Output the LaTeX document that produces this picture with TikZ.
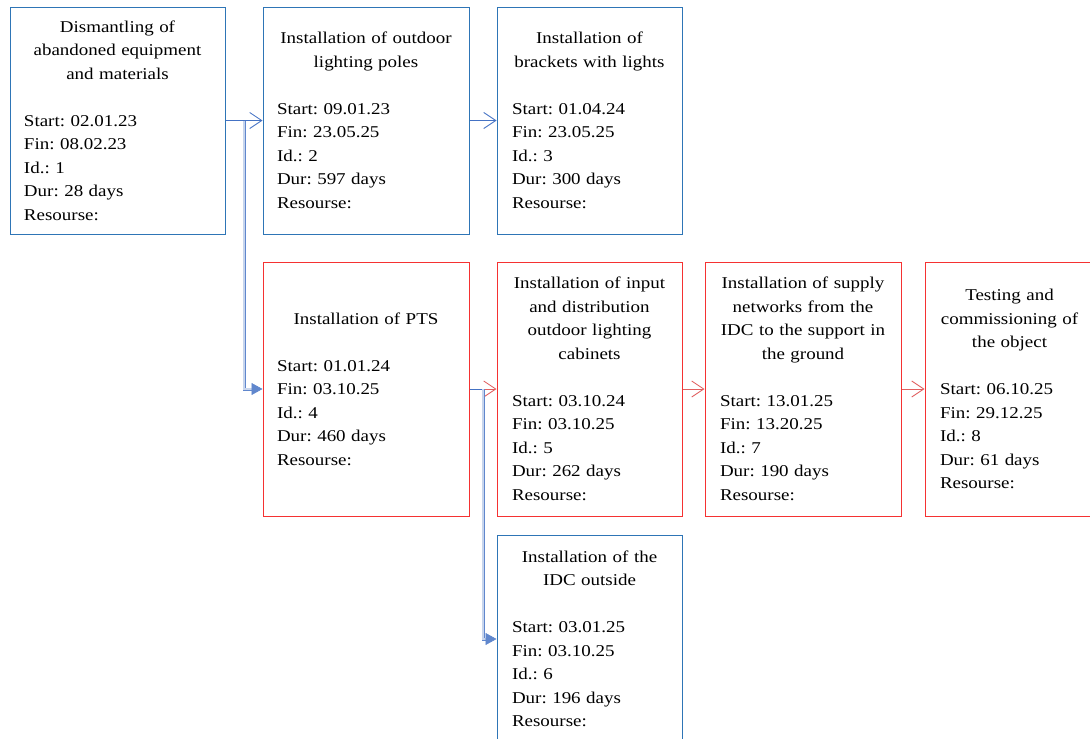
\documentclass[tikz,border=0pt]{standalone}
\usepackage{fontspec}
\setmainfont{Liberation Serif}[FakeStretch=1.15]
\usetikzlibrary{arrows.meta,calc}
\definecolor{boxblue}{RGB}{46,117,182}
\definecolor{lineblue}{RGB}{68,114,196}
\definecolor{boxred}{RGB}{245,50,50}
\definecolor{linered}{RGB}{225,95,95}
\newcommand\tline[1]{\makebox[\linewidth][c]{#1}\\}
\newcommand\tlast[1]{\makebox[\linewidth][c]{#1}\\[\baselineskip]}
\frenchspacing
\begin{document}
\begin{tikzpicture}[x=1pt,y=-1pt,
  task/.style={draw, line width=1pt, fill=white, align=left, inner xsep=14pt, inner ysep=0pt,
    font=\fontsize{16.5}{23.5}\selectfont\frenchspacing},
  bluebox/.style={task, draw=boxblue},
  redbox/.style={task, draw=boxred},
  blueconn/.style={draw=lineblue, line width=0.9pt, -{Straight Barb[length=12pt,width=16pt]}},
  redconn/.style={draw=linered, line width=0.9pt, -{Straight Barb[length=12pt,width=16pt]}},
  dblconn/.style={draw=lineblue!85, line width=0.6pt, double=lineblue!30!white, double distance=1.8pt,
    -{Triangle[length=11pt,width=12pt]}},
  ]
\useasboundingbox (0,0) rectangle (1090,739);

\node[bluebox, text width=187pt, minimum height=227pt] (n1) at (117.5,120.5)
  {\tline{Dismantling of}\tline{abandoned equipment}\tlast{and materials}Start: 02.01.23\\Fin: 08.02.23\\Id.: 1\\Dur: 28 days\\Resourse:};
\node[bluebox, text width=178pt, minimum height=227pt] (n2) at (366,120.5)
  {\tline{Installation of outdoor}\tlast{lighting poles}Start: 09.01.23\\Fin: 23.05.25\\Id.: 2\\Dur: 597 days\\Resourse:};
\node[bluebox, inner xsep=15pt, text width=155pt, minimum height=227pt] (n3) at (589.5,120.5)
  {\tline{Installation of}\tlast{brackets with lights}Start: 01.04.24\\Fin: 23.05.25\\Id.: 3\\Dur: 300 days\\Resourse:};
\node[redbox, text width=178pt, minimum height=254pt] (n4) at (366,389)
  {\tlast{Installation of PTS}Start: 01.01.24\\Fin: 03.10.25\\Id.: 4\\Dur: 460 days\\Resourse:};
\node[redbox, inner xsep=15pt, text width=155pt, minimum height=254pt] (n5) at (589.5,389)
  {\tline{Installation of input}\tline{and distribution}\tline{outdoor lighting}\tlast{cabinets}Start: 03.10.24\\Fin: 03.10.25\\Id.: 5\\Dur: 262 days\\Resourse:};
\node[redbox, inner xsep=15pt, text width=166pt, minimum height=254pt] (n7) at (803,389)
  {\tline{Installation of supply}\tline{networks from the}\tline{IDC to the support in}\tlast{the ground}Start: 13.01.25\\Fin: 13.20.25\\Id.: 7\\Dur: 190 days\\Resourse:};
\node[redbox, inner xsep=15pt, text width=139pt, minimum height=254pt] (n8) at (1009.5,389)
  {\tline{Testing and}\tline{commissioning of}\tlast{the object}Start: 06.10.25\\Fin: 29.12.25\\Id.: 8\\Dur: 61 days\\Resourse:};
\node[bluebox, inner xsep=15pt, text width=155pt, minimum height=208pt] (n6) at (589.5,639)
  {\tline{Installation of the}\tlast{IDC outside}Start: 03.01.25\\Fin: 03.10.25\\Id.: 6\\Dur: 196 days\\Resourse:};

\draw[blueconn] (n1) -- (n2);
\draw[blueconn] (n2) -- (n3);
\coordinate (j1) at ($(n1.east)!0.5!(n2.west)$);
\draw[dblconn] (j1) |- (n4.west);

\draw[redconn] (n4) -- (n5);
\draw[redconn] (n5) -- (n7);
\draw[redconn] (n7) -- (n8);
\coordinate (j2) at ($(n4.east)!0.5!(n5.west)$);
\draw[draw=lineblue, line width=0.9pt] (n4.east) -- (j2);
\draw[dblconn] (j2) |- (n6.west);
\end{tikzpicture}
\end{document}
